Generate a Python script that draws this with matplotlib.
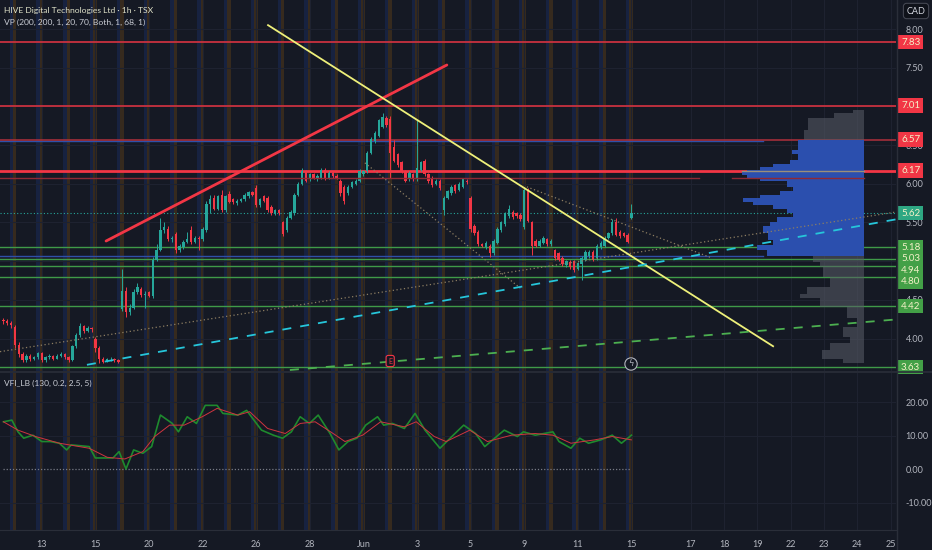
import numpy as np
import matplotlib
matplotlib.use('Agg')
import matplotlib.pyplot as plt
import matplotlib.transforms as mtransforms

plt.rcParams['font.family'] = ['Lato', 'DejaVu Sans']

# ---- candles (1h bars) ----
opens = [4.24, 4.22, 4.20, 4.15, 3.92, 3.80, 3.72, 3.78, 3.74, 3.76,
         3.81, 3.72, 3.76, 3.78, 3.74, 3.78, 3.80, 3.76, 3.72, 3.90,
         4.05, 4.16, 4.10, 4.14, 4.00, 3.88, 3.74, 3.70, 3.73, 3.74,
         3.72, 4.38, 4.62, 4.34, 4.40, 4.60, 4.64, 4.56, 4.60, 4.55,
         5.02, 5.15, 5.40, 5.42, 5.28, 5.35, 5.15, 5.18, 5.25, 5.40,
         5.25, 5.30, 5.28, 5.40, 5.74, 5.82, 5.68, 5.86, 5.66, 5.87,
         5.80, 5.75, 5.78, 5.80, 5.84, 5.89, 5.95, 5.72, 5.84, 5.82,
         5.70, 5.62, 5.66, 5.50, 5.40, 5.56, 5.62, 5.86, 6.00, 6.16,
         6.06, 6.12, 6.08, 6.08, 6.18, 6.08, 6.14, 6.10, 6.04, 5.96,
         5.88, 5.96, 6.00, 6.04, 6.12, 6.16, 6.40, 6.55, 6.62, 6.74,
         6.85, 6.84, 6.48, 6.38, 6.28, 6.16, 6.06, 6.12, 6.06, 6.18,
         6.30, 6.12, 6.08, 6.00, 6.04, 5.66, 5.82, 5.88, 5.98, 5.92,
         5.96, 6.04, 5.82, 5.46, 5.38, 5.22, 5.18, 5.20, 5.10, 5.24,
         5.40, 5.48, 5.58, 5.64, 5.62, 5.60, 5.44, 5.90, 5.50, 5.26,
         5.20, 5.24, 5.28, 5.22, 5.14, 5.10, 5.04, 4.95, 4.99, 5.00,
         4.90, 4.96, 5.02, 5.06, 5.12, 5.04, 5.18, 5.20, 5.30, 5.36,
         5.50, 5.38, 5.36, 5.34, 5.56]
highs = [4.27, 4.25, 4.22, 4.17, 3.95, 3.82, 3.80, 3.80, 3.78, 3.83,
         3.83, 3.78, 3.80, 3.79, 3.80, 3.82, 3.81, 3.78, 3.92, 4.07,
         4.20, 4.18, 4.16, 4.15, 4.02, 3.90, 3.76, 3.75, 3.76, 3.75,
         3.73, 4.90, 4.66, 4.45, 4.64, 4.72, 4.66, 4.62, 4.62, 5.05,
         5.22, 5.56, 5.50, 5.45, 5.33, 5.38, 5.22, 5.27, 5.38, 5.45,
         5.33, 5.32, 5.44, 5.78, 5.85, 5.86, 5.86, 5.92, 5.86, 5.90,
         5.82, 5.80, 5.82, 5.88, 5.91, 5.91, 5.98, 5.82, 5.86, 5.84,
         5.72, 5.68, 5.68, 5.52, 5.58, 5.66, 5.88, 6.02, 6.20, 6.18,
         6.14, 6.14, 6.12, 6.20, 6.20, 6.16, 6.16, 6.12, 6.06, 5.98,
         5.98, 6.04, 6.06, 6.19, 6.18, 6.42, 6.60, 6.68, 6.84, 6.92,
         6.88, 6.88, 6.56, 6.40, 6.30, 6.18, 6.16, 6.14, 6.82, 6.30,
         6.32, 6.14, 6.10, 6.06, 6.06, 5.84, 5.92, 5.98, 6.00, 6.02,
         6.08, 6.06, 5.84, 5.48, 5.40, 5.24, 5.26, 5.22, 5.28, 5.44,
         5.52, 5.64, 5.72, 5.66, 5.64, 5.62, 5.96, 5.94, 5.52, 5.28,
         5.28, 5.32, 5.30, 5.28, 5.16, 5.12, 5.06, 5.02, 5.01, 5.02,
         4.99, 5.06, 5.14, 5.14, 5.14, 5.22, 5.26, 5.32, 5.38, 5.54,
         5.56, 5.40, 5.38, 5.36, 5.74]
lows = [4.19, 4.17, 4.14, 3.88, 3.76, 3.69, 3.70, 3.71, 3.72, 3.74,
        3.70, 3.70, 3.74, 3.72, 3.73, 3.76, 3.74, 3.69, 3.71, 3.88,
        4.02, 4.07, 4.08, 4.09, 3.83, 3.68, 3.68, 3.69, 3.71, 3.70,
        3.68, 4.35, 4.28, 4.30, 4.38, 4.58, 4.54, 4.40, 4.53, 4.52,
        5.00, 5.13, 5.36, 5.26, 5.25, 5.10, 5.12, 5.16, 5.23, 5.22,
        5.23, 5.15, 5.26, 5.38, 5.62, 5.66, 5.66, 5.64, 5.64, 5.75,
        5.74, 5.73, 5.76, 5.78, 5.82, 5.84, 5.70, 5.70, 5.76, 5.64,
        5.60, 5.60, 5.60, 5.32, 5.38, 5.54, 5.60, 5.84, 5.98, 6.02,
        6.04, 6.06, 6.04, 6.06, 6.05, 6.06, 6.08, 6.06, 5.84, 5.74,
        5.86, 5.94, 5.98, 6.02, 6.10, 6.14, 6.38, 6.53, 6.60, 6.72,
        6.74, 6.07, 6.28, 6.22, 6.14, 6.02, 6.04, 6.04, 6.04, 6.16,
        6.10, 6.01, 5.96, 5.98, 5.92, 5.60, 5.80, 5.86, 5.88, 5.90,
        5.94, 6.00, 5.38, 5.34, 5.20, 5.18, 5.16, 5.05, 5.08, 5.22,
        5.38, 5.46, 5.56, 5.55, 5.56, 5.52, 5.42, 5.50, 5.08, 5.18,
        5.18, 5.22, 5.20, 5.20, 5.02, 5.00, 4.94, 4.93, 4.90, 4.86,
        4.88, 4.75, 5.00, 5.04, 5.00, 5.02, 5.16, 5.18, 5.28, 5.34,
        5.32, 5.30, 5.31, 5.23, 5.54]
closes = [4.22, 4.20, 4.17, 3.92, 3.80, 3.72, 3.78, 3.74, 3.76, 3.81,
          3.72, 3.76, 3.78, 3.74, 3.78, 3.80, 3.76, 3.72, 3.90, 4.05,
          4.16, 4.10, 4.14, 4.12, 3.88, 3.74, 3.70, 3.73, 3.74, 3.72,
          3.70, 4.62, 4.34, 4.40, 4.60, 4.66, 4.56, 4.58, 4.55, 5.02,
          5.15, 5.40, 5.44, 5.28, 5.30, 5.15, 5.20, 5.25, 5.28, 5.25,
          5.30, 5.28, 5.42, 5.74, 5.80, 5.68, 5.84, 5.66, 5.84, 5.77,
          5.76, 5.78, 5.80, 5.86, 5.89, 5.86, 5.72, 5.80, 5.78, 5.66,
          5.62, 5.66, 5.62, 5.35, 5.56, 5.64, 5.86, 6.00, 6.16, 6.04,
          6.12, 6.08, 6.10, 6.18, 6.07, 6.14, 6.10, 6.08, 5.88, 5.78,
          5.96, 6.02, 6.04, 6.17, 6.16, 6.40, 6.58, 6.66, 6.82, 6.86,
          6.76, 6.40, 6.30, 6.24, 6.16, 6.04, 6.14, 6.06, 6.20, 6.28,
          6.12, 6.03, 5.98, 6.04, 5.94, 5.82, 5.90, 5.96, 5.90, 6.00,
          6.06, 6.02, 5.42, 5.36, 5.22, 5.20, 5.24, 5.10, 5.26, 5.42,
          5.50, 5.62, 5.68, 5.57, 5.58, 5.54, 5.92, 5.52, 5.20, 5.20,
          5.26, 5.30, 5.22, 5.26, 5.04, 5.02, 4.96, 5.00, 4.92, 4.88,
          4.97, 5.04, 5.12, 5.12, 5.02, 5.20, 5.24, 5.30, 5.36, 5.50,
          5.34, 5.32, 5.33, 5.25, 5.62]

# date ticks (bar index of first bar of the day / future slots)
tick_pos = [10, 24, 38, 52, 66, 80, 94, 108, 122, 136, 150, 164,
            179.5, 188.2, 196.9, 205.6, 214.3, 223.0, 231.7]
tick_lab = ['13', '15', '20', '22', '26', '28', 'Jun', '3', '5', '9', '11', '15',
            '17', '18', '19', '22', '23', '24', '25']

# price scale labels (7.00 and 5.00 sit under level tags)
price_ticks = [4.0, 4.5, 5.5, 6.0, 6.5, 7.5, 8.0]

# horizontal levels
red_levels = [7.83, 7.01, 6.57, 6.17]
green_levels = [5.18, 5.03, 4.94, 4.80, 4.42, 3.63]
blue_levels = [6.55, 5.06]
last_price = 5.62

# drawings: (bar, price) anchors
trend_red = [(26.8, 5.26), (115.8, 7.535)]
trend_yellow = [(69.1, 8.05), (201.0, 3.90)]
trend_cyan = [(21.8, 3.66), (233.1, 5.54)]
trend_green = [(74.8, 3.593), (233.1, 4.246)]
dotted_up = [(-0.9, 3.83), (233.1, 5.635)]
dotted_dn1 = [(94.4, 6.27), (135.0, 4.65)]
dotted_dn2 = [(136.7, 5.96), (184.5, 5.05)]

# volume profile rows
vp_hi = [6.95, 6.91, 6.85, 6.70, 6.57, 6.44, 6.39, 6.31, 6.26, 6.22,
         6.18, 6.15, 6.11, 6.07, 6.03, 5.96, 5.90, 5.86, 5.81, 5.77,
         5.73, 5.68, 5.62, 5.57, 5.51, 5.45, 5.36, 5.27, 5.21, 5.14,
         5.06, 4.99, 4.93, 4.80, 4.67, 4.58, 4.52, 4.41, 4.26, 4.15,
         4.02, 3.94, 3.85, 3.74]
vp_vol = [11, 30, 56, 60, 66, 72, 66, 74, 91, 104,
          117, 122, 117, 104, 77, 71, 84, 104, 121, 111,
          91, 77, 71, 87, 94, 101, 96, 91, 107, 97,
          51, 44, 41, 34, 57, 64, 44, 17, 7, 21,
          14, 34, 42, 21]
vp_bottom = 3.68
va_high, va_low = 6.57, 5.06

# VFI indicator
vfi_x = [0, 2.2, 3.8, 5.3, 7.7, 10.0, 12.3, 14.6, 16.5, 17.7, 22.4, 24.0, 28.6, 30.2,
         32.0, 34.0, 36.4, 38.7, 41.0, 44.1, 45.7, 48.0, 50.4, 52.7, 55.8, 57.3, 61.2,
         63.5, 67.4, 70.5, 72.9, 75.2, 77.5, 79.9, 82.2, 85.3, 87.6, 90.0, 92.3, 94.6,
         97.7, 99.3, 101.6, 104.7, 107.5, 110.1, 114.0, 117.1, 120.2, 123.3, 125.7,
         128.8, 130.8, 134.2, 135.8, 138.9, 143.5, 145.1, 148.2, 150.5, 152.8, 156.0,
         159.0, 161.4, 164]
vfi = [14.1, 14.6, 11.1, 9.2, 10.1, 8.2, 8.2, 7.7, 5.7, 7.2, 6.7, 3.3, 3.3, 5.2,
       0.0, 5.7, 4.7, 6.7, 16.1, 13.6, 11.1, 15.6, 13.6, 19.0, 19.0, 16.6, 16.1,
       17.5, 11.6, 10.1, 9.2, 11.1, 15.6, 13.6, 16.1, 10.6, 5.7, 8.2, 9.2, 13.1,
       15.6, 13.1, 13.6, 12.1, 16.6, 11.6, 6.2, 9.7, 13.1, 10.6, 6.7,
       9.7, 11.6, 9.7, 11.1, 10.1, 11.1, 8.2, 6.2, 9.2, 7.7, 8.7,
       10.1, 7.7, 10.1]
sig_x = [0, 3.8, 8.4, 14.6, 22.4, 27.1, 31.7, 36.4, 39.5, 43.4, 47.2, 51.9, 55.8,
         61.2, 64.3, 69.0, 73.6, 77.5, 81.4, 86.1, 89.2, 93.8, 98.5, 104.7, 107.8,
         112.5, 115.6, 121.8, 126.4, 132.7, 138.9, 143.5, 148.2, 154.4, 159.0, 164]
sig = [14.1, 11.6, 9.7, 7.7, 6.2, 3.5, 3.0, 5.2, 9.7, 13.1, 13.1, 15.6, 18.1,
       16.1, 17.1, 12.1, 10.6, 13.6, 14.1, 10.6, 8.2, 10.1, 14.1, 12.6, 14.1,
       9.7, 8.2, 11.6, 8.2, 10.1, 10.6, 10.1, 7.7, 8.7, 9.7, 8.7]

BG = '#151924'
GRID = '#1e2230'
TXT = '#b2b5be'
UP = '#26a69a'
DN = '#f23645'

fig = plt.figure(figsize=(9.32, 5.5), dpi=100, facecolor=BG)
ax = fig.add_axes([0, 1 - 371 / 550, 896 / 932, 371 / 550])
ax2 = fig.add_axes([0, 20 / 550, 896 / 932, 157 / 550], sharex=ax)
for a in (ax, ax2):
    a.set_facecolor(BG)
    for s in a.spines.values():
        s.set_visible(False)

xmin, xmax = -0.9, 233.1
ymin, ymax = 3.58, 8.375
ax.set_xlim(xmin, xmax)
ax.set_ylim(ymin, ymax)
ax2.set_ylim(-18.2, 28.66)

# session background stripes
n = len(closes)
for b in np.arange(3, n + 1, 7) - 0.5:
    for a in (ax, ax2):
        a.axvspan(b - 0.9, b, color='#2962ff', alpha=0.13, lw=0, zorder=0)
        a.axvspan(b, b + 0.9, color='#ff9800', alpha=0.14, lw=0, zorder=0)

# grid
for a in (ax, ax2):
    for t in tick_pos:
        a.axvline(t, color=GRID, lw=0.8, zorder=0.5)
for p in np.arange(4.0, 8.01, 0.5):
    ax.axhline(p, color=GRID, lw=0.8, zorder=0.5)
for v in [-10, 10, 20]:
    ax2.axhline(v, color=GRID, lw=0.8, zorder=0.5)

# candles
o = np.array(opens); h = np.array(highs); l = np.array(lows); c = np.array(closes)
idx = np.arange(n)
cols = np.where(c >= o, UP, DN)
ax.vlines(idx, l, h, colors=cols, lw=0.7, zorder=3)
ax.bar(idx, np.maximum(np.abs(c - o), 0.008), bottom=np.minimum(o, c), width=0.62,
       color=cols, lw=0, zorder=3)

# horizontal levels
yt = mtransforms.blended_transform_factory(ax.transAxes, ax.transData)
for lev in blue_levels:
    ax.plot([xmin, 198.4], [lev, lev], color='#2f4fa8', lw=1.0, zorder=2)
red_styles = [('#c8313f', 1.3), ('#c8313f', 1.3), ('#b0303c', 1.1), ('#f23645', 2.0)]
for lev, (col, lw) in zip(red_levels, red_styles):
    ax.axhline(lev, color=col, lw=lw, zorder=2.2)
ax.plot([xmin, 181.6], [6.08, 6.08], color='#8e2a35', lw=1.0, zorder=4)
ax.plot([190.2, 224.8], [6.08, 6.08], color='#8e2a35', lw=1.0, zorder=4)
for lev in green_levels:
    ax.axhline(lev, color='#3f9a48', lw=1.0, zorder=2)
ax.axhline(last_price, color=UP, lw=0.8, ls=(0, (1, 2)), zorder=2)

# volume profile
anchor = 224.8
vmax = max(vp_vol)
vp_lo = vp_hi[1:] + [vp_bottom]
for hi_, lo_, vol in zip(vp_hi, vp_lo, vp_vol):
    w = vol / vmax * 31.9
    in_va = lo_ >= va_low - 1e-6 and hi_ <= va_high + 1e-6
    if in_va:
        ax.barh(lo_, -w, height=hi_ - lo_, left=anchor, align='edge',
                color='#2b4fae', lw=0, zorder=3)
    else:
        ax.barh(lo_, -w, height=hi_ - lo_, left=anchor, align='edge',
                color='#5a5d68', alpha=0.55, lw=0, zorder=3)
ax.plot([anchor - 31.9, anchor], [6.17, 6.17], color='#9a8f7a', lw=1.0, zorder=3.5)

# drawings
def seg(pts, **kw):
    xs, ys = zip(*pts)
    ax.plot(xs, ys, **kw)

seg(trend_red, color='#f23645', lw=2.0, zorder=5, solid_capstyle='round')
seg(trend_yellow, color='#eef07a', lw=1.3, zorder=5)
seg(trend_cyan, color='#26c6da', lw=1.3, ls=(0, (5, 5)), zorder=5)
seg(trend_green, color='#4caf50', lw=1.3, ls=(0, (5, 5)), zorder=5)
seg(dotted_up, color='#8d7e62', lw=0.9, ls=(0, (1, 2)), zorder=4)
seg(dotted_dn1, color='#8d7e62', lw=0.9, ls=(0, (1, 2)), zorder=4)
seg(dotted_dn2, color='#8d7e62', lw=0.9, ls=(0, (1, 2)), zorder=4)

# event markers
xt = mtransforms.blended_transform_factory(ax.transData, ax.transAxes)
ax.text(101.0, 10 / 371, 'E', transform=xt, ha='center', va='center', fontsize=5,
        color='#f23645', zorder=6,
        bbox=dict(boxstyle='round,pad=0.3', fc=BG, ec='#f23645', lw=0.8))
ax.text(163.9, 7 / 371, 'ϟ', transform=xt, ha='center', va='center', fontsize=6,
        color='#b2b5be', zorder=6, family=['DejaVu Sans'],
        bbox=dict(boxstyle='circle,pad=0.2', fc=BG, ec='#b2b5be', lw=0.8))

# right price scale
ax.yaxis.tick_right()
ax.set_yticks(price_ticks)
ax.set_yticklabels(['%.2f' % p for p in price_ticks])
ax.tick_params(axis='y', length=0, pad=7, labelsize=6.5, labelcolor=TXT)
ax.tick_params(axis='x', length=0, labelbottom=False)

# level tags, pushed apart like the price scale does
units_per_px = (ymax - ymin) / 371
tags = [(lev, '#f23645') for lev in red_levels] + \
       [(lev, '#43a047') for lev in green_levels] + [(last_price, '#2ea783')]
tags.sort(key=lambda t: -t[0])
prev_y = None
for lev, fc in tags:
    ypos = lev
    if prev_y is not None and prev_y - ypos < 11.5 * units_per_px:
        ypos = prev_y - 11.5 * units_per_px
    prev_y = ypos
    ax.text(1 + 5 / 896, ypos, '%.2f' % lev, transform=yt, ha='left', va='center',
            fontsize=7, color='#f4f1c8', clip_on=False, zorder=10,
            bbox=dict(boxstyle='square,pad=0.28', fc=fc, ec='none'))

# indicator panel
ax2.plot(vfi_x, vfi, color='#1e8a2e', lw=1.2, zorder=3)
ax2.plot(sig_x, sig, color='#d0343f', lw=0.7, zorder=4)
ax2.hlines(0, 0, n - 1, colors='#787b86', lw=0.9, linestyles=(0, (1, 1.5)), zorder=2)
ax2.yaxis.tick_right()
ax2.set_yticks([-10, 0, 10, 20])
ax2.set_yticklabels(['-10.00', '0.00', '10.00', '20.00'])
ax2.tick_params(axis='y', length=0, pad=7, labelsize=6.5, labelcolor=TXT)
ax2.set_xticks(tick_pos)
ax2.set_xticklabels(tick_lab)
ax2.tick_params(axis='x', length=0, pad=7, labelsize=6.5, labelcolor=TXT)
ax2.spines['bottom'].set_visible(True)
ax2.spines['bottom'].set_color('#2a2e39')

# panel separators and right border
fig.add_artist(plt.Line2D([0, 1], [1 - 372 / 550] * 2, color='#2a2e39', lw=1.2))
fig.add_artist(plt.Line2D([897 / 932] * 2, [0, 1], color='#2a2e39', lw=1.0))

# titles
ax.text(4 / 896, 1 - 10 / 371, 'HIVE Digital Technologies Ltd · 1h · TSX',
        transform=ax.transAxes, ha='left', va='center', fontsize=6.1, color='#dfe1c8')
ax.text(4 / 896, 1 - 22 / 371, 'VP (200, 200, 1, 20, 70, Both, 1, 68, 1)',
        transform=ax.transAxes, ha='left', va='center', fontsize=6.1, color='#c9ccd4')
ax2.text(4 / 896, 1 - 10 / 157, 'VFI_LB (130, 0.2, 2.5, 5)',
         transform=ax2.transAxes, ha='left', va='center', fontsize=6.0, color='#c9ccd4')
fig.text(916 / 932, 1 - 11 / 550, 'CAD', ha='center', va='center', fontsize=6.5,
         color='#d1d4dc',
         bbox=dict(boxstyle='round,pad=0.35', fc='#0f121a', ec='#434651', lw=0.8))

fig.savefig('out.png', dpi=100, facecolor=BG)
